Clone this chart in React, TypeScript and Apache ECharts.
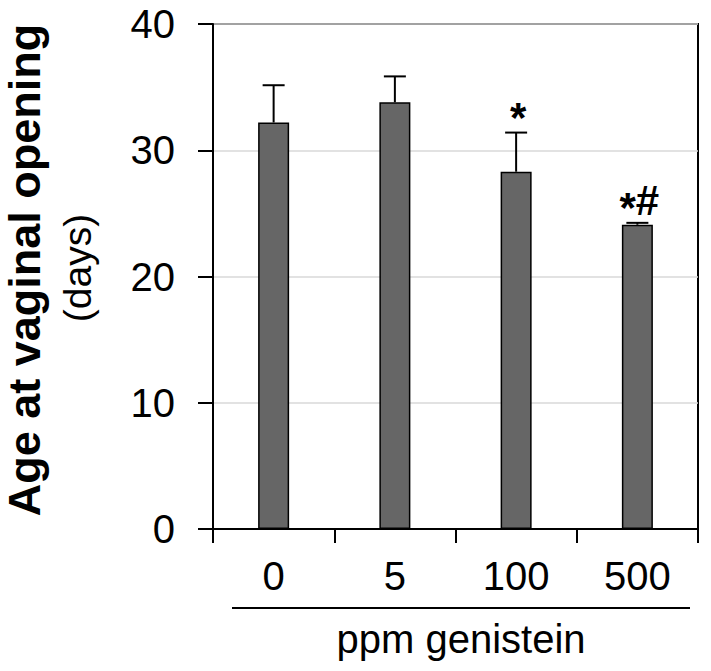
import React, { useEffect, useRef } from "react";
import * as echarts from "echarts";

const categories = ["0", "5", "100", "500"];
const means = [32.2, 33.8, 28.3, 24.1];
const errors = [2.95, 2.05, 3.1, 0.15];
const sigMarks = ["", "", "*", "*#"];
const yMin = 0;
const yMax = 40;
const yInterval = 10;
const yTitle = "Age at vaginal opening";
const yUnit = "(days)";
const xTitle = "ppm genistein";

const FONT = '"Liberation Sans", Arial, sans-serif';

export default function App() {
  const ref = useRef<HTMLDivElement>(null);

  useEffect(() => {
    if (!ref.current) return;
    const chart = echarts.init(ref.current, null, { renderer: "svg" });

    const errData = categories.map((c, i) => [i, means[i], means[i] + errors[i], i]);

    chart.setOption({
      animation: false,
      backgroundColor: "#ffffff",
      textStyle: { fontFamily: FONT },
      grid: {
        left: 213,
        top: 24,
        width: 485,
        height: 505,
        show: true,
        borderColor: "#000",
        borderWidth: 2,
        containLabel: false,
      },
      xAxis: {
        type: "category",
        data: categories,
        boundaryGap: true,
        axisLine: { show: true, lineStyle: { color: "#000", width: 2 } },
        axisTick: { show: true, length: 14, lineStyle: { color: "#000", width: 2 } },
        axisLabel: {
          color: "#000",
          fontSize: 40,
          fontFamily: FONT,
          margin: 27,
        },
        splitLine: { show: false },
        name: xTitle,
        nameLocation: "middle",
        nameGap: 90,
        nameTextStyle: {
          color: "#000",
          fontSize: 40,
          fontFamily: FONT,
          padding: [0, 0, 0, 11],
        },
      },
      yAxis: {
        type: "value",
        min: yMin,
        max: yMax,
        interval: yInterval,
        axisLine: { show: true, lineStyle: { color: "#000", width: 2 } },
        axisTick: { show: true, length: 15, lineStyle: { color: "#000", width: 2 } },
        axisLabel: {
          color: "#000",
          fontSize: 40,
          fontFamily: FONT,
          margin: 38,
        },
        splitLine: { show: true, lineStyle: { color: "#d9d9d9", width: 1.5 } },
      },
      series: [
        {
          type: "bar",
          data: means,
          barWidth: 31,
          itemStyle: { color: "#666666", borderColor: "#000", borderWidth: 1.5 },
          z: 2,
        },
        {
          type: "custom",
          data: errData,
          z: 3,
          renderItem: (params: any, api: any) => {
            const idx = api.value(3);
            const lo = api.coord([api.value(0), api.value(1)]);
            const hi = api.coord([api.value(0), api.value(2)]);
            const half = 11;
            const children: any[] = [
              {
                type: "line",
                shape: { x1: lo[0], y1: lo[1], x2: hi[0], y2: hi[1] },
                style: { stroke: "#000", lineWidth: 2 },
              },
              {
                type: "line",
                shape: { x1: hi[0] - half, y1: hi[1], x2: hi[0] + half, y2: hi[1] },
                style: { stroke: "#000", lineWidth: 2 },
              },
            ];
            const mark = sigMarks[idx];
            if (mark) {
              const fs = 42;
              const adv: Record<string, number> = { "*": 0.389, "#": 0.556 };
              const chars = mark.split("");
              const total = chars.reduce((s, ch) => s + (adv[ch] || 0.556) * fs, 0);
              let cur = hi[0] - total / 2 + 2;
              chars.forEach((ch) => {
                const w = (adv[ch] || 0.556) * fs;
                children.push({
                  type: "text",
                  style: {
                    text: ch,
                    x: cur + w / 2,
                    y: hi[1] - (ch === "*" ? 15 : 22),
                    align: "center",
                    verticalAlign: "middle",
                    fontSize: fs,
                    fontWeight: "bold",
                    fontFamily: FONT,
                    fill: "#000",
                  },
                });
                cur += w;
              });
            }
            return { type: "group", children };
          },
        },
      ],
      graphic: [
        {
          type: "line",
          shape: { x1: 232, y1: 608, x2: 690, y2: 608 },
          style: { stroke: "#000", lineWidth: 2 },
        },
        {
          type: "text",
          x: 24,
          y: 270,
          rotation: Math.PI / 2,
          style: {
            text: yTitle,
            align: "center",
            verticalAlign: "middle",
            fontSize: 45,
            fontWeight: "bold",
            fontFamily: FONT,
            fill: "#000",
          },
        },
        {
          type: "text",
          x: 77,
          y: 268,
          rotation: Math.PI / 2,
          style: {
            text: yUnit,
            align: "center",
            verticalAlign: "middle",
            fontSize: 39,
            fontFamily: FONT,
            fill: "#000",
          },
        },
      ],
    });

    return () => chart.dispose();
  }, []);

  return (
    <div
      ref={ref}
      style={{ position: "fixed", left: 0, top: 0, width: 711, height: 671 }}
    />
  );
}
